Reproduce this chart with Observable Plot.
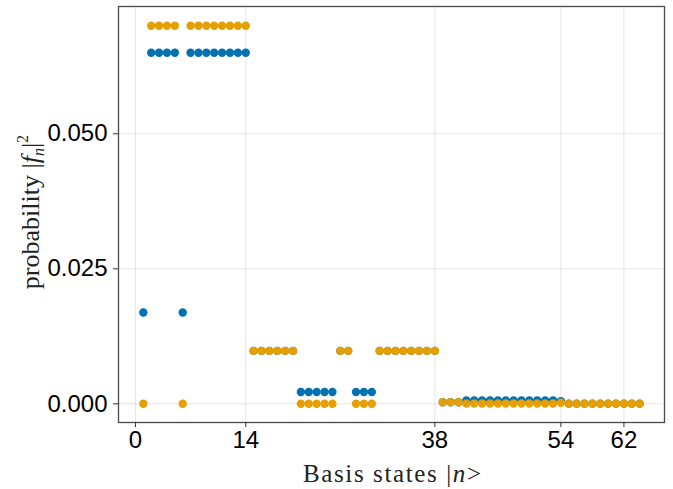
<!DOCTYPE html>
<html>
<head>
<meta charset="utf-8">
<script src="https://cdn.jsdelivr.net/npm/d3@7"></script>
<script src="https://cdn.jsdelivr.net/npm/@observablehq/plot@0.6"></script>
<style>
  html, body { margin: 0; padding: 0; background: #fff; }
  #chart { width: 673px; height: 489px; }
</style>
</head>
<body>
<div id="chart"></div>
<script>
// Basis state index n = 1..64
const states = d3.range(1, 65);

// Series 1 (blue) probabilities |f_n|^2
const blueValues = [
  0.0169, 0.0650, 0.0650, 0.0650, 0.0650, 0.0169, 0.0650, 0.0650,
  0.0650, 0.0650, 0.0650, 0.0650, 0.0650, 0.0650, 0.0098, 0.0098,
  0.0098, 0.0098, 0.0098, 0.0098, 0.0022, 0.0022, 0.0022, 0.0022,
  0.0022, 0.0098, 0.0098, 0.0022, 0.0022, 0.0022, 0.0098, 0.0098,
  0.0098, 0.0098, 0.0098, 0.0098, 0.0098, 0.0098, 0.0003, 0.0003,
  0.0003, 0.0006, 0.0006, 0.0006, 0.0006, 0.0006, 0.0006, 0.0006,
  0.0006, 0.0006, 0.0006, 0.0006, 0.0006, 0.0005, 0.00003, 0.00003,
  0.00003, 0.00003, 0.00003, 0.00003, 0.00003, 0.00003, 0.00003, 0.00003
];

// Series 2 (orange) probabilities |f_n|^2
const orangeValues = [
  0.0000, 0.0700, 0.0700, 0.0700, 0.0700, 0.0000, 0.0700, 0.0700,
  0.0700, 0.0700, 0.0700, 0.0700, 0.0700, 0.0700, 0.0098, 0.0098,
  0.0098, 0.0098, 0.0098, 0.0098, 0.0000, 0.0000, 0.0000, 0.0000,
  0.0000, 0.0098, 0.0098, 0.0000, 0.0000, 0.0000, 0.0098, 0.0098,
  0.0098, 0.0098, 0.0098, 0.0098, 0.0098, 0.0098, 0.0003, 0.0003,
  0.0003, 0.00005, 0.00005, 0.00005, 0.00005, 0.00005, 0.00005, 0.00005,
  0.00005, 0.00005, 0.00005, 0.00005, 0.00005, 0.0002, 0.00003, 0.00003,
  0.00003, 0.00003, 0.00003, 0.00003, 0.00003, 0.00003, 0.00003, 0.00003
];

const xTicks = [0, 14, 38, 54, 62];
const yTicks = [0, 0.025, 0.05];

const blueData = states.map((n, i) => ({n, p: blueValues[i]}));
const orangeData = states.map((n, i) => ({n, p: orangeValues[i]}));

const chart = Plot.plot({
  width: 673,
  height: 489,
  marginLeft: 118,
  marginRight: 9,
  marginTop: 6,
  marginBottom: 67,
  style: {
    fontFamily: "'Liberation Sans', Arial, sans-serif",
    fontSize: "24px",
    color: "#000",
    background: "#fff",
    overflow: "visible"
  },
  x: { domain: [-2.15, 67.15], label: null },
  y: { domain: [-0.00346, 0.07357], label: null },
  marks: [
    Plot.gridX(xTicks, { stroke: "#000", strokeOpacity: 0.1, strokeWidth: 1 }),
    Plot.gridY(yTicks, { stroke: "#000", strokeOpacity: 0.1, strokeWidth: 1 }),
    Plot.frame({ stroke: "#4a4a4a", strokeWidth: 1.3 }),
    Plot.axisX(xTicks, {
      tickSize: 5, tickPadding: 3, fontSize: 24, label: null,
      tickFormat: d => String(d), stroke: "#333"
    }),
    Plot.axisY(yTicks, {
      tickSize: 5, tickPadding: 6, fontSize: 24, label: null,
      tickFormat: d3.format(".3f"), stroke: "#333"
    }),
    Plot.dot(blueData, { x: "n", y: "p", r: 4.2, fill: "#0072B2", stroke: "none" }),
    Plot.dot(orangeData, { x: "n", y: "p", r: 4.2, fill: "#E69F00", stroke: "none" })
  ]
});

document.getElementById("chart").appendChild(chart);

// Axis titles (mixed upright / italic text)
const svg = d3.select(chart);
const serif = "'Liberation Serif', 'DejaVu Serif', serif";

const xl = svg.append("text")
  .attr("x", 392)
  .attr("y", 482)
  .attr("text-anchor", "middle")
  .attr("font-family", serif)
  .attr("font-size", 25)
  .attr("fill", "#222")
  .attr("textLength", 178)
  .attr("lengthAdjust", "spacing");
xl.append("tspan").text("Basis states ");
xl.append("tspan").text("|");
xl.append("tspan").attr("font-style", "italic").text("n");
xl.append("tspan").text(">");

const yl = svg.append("text")
  .attr("transform", `translate(39, 212) rotate(-90)`)
  .attr("text-anchor", "middle")
  .attr("font-family", serif)
  .attr("font-size", 26)
  .attr("fill", "#222");
yl.append("tspan").text("probability ");
yl.append("tspan").text("|");
yl.append("tspan").attr("font-style", "italic").text("f");
yl.append("tspan").attr("font-style", "italic").attr("font-size", 16).attr("dy", 5).text("n");
yl.append("tspan").attr("dy", -5).text("|");
yl.append("tspan").attr("font-size", 16).attr("dy", -11).text("2");
</script>
</body>
</html>
